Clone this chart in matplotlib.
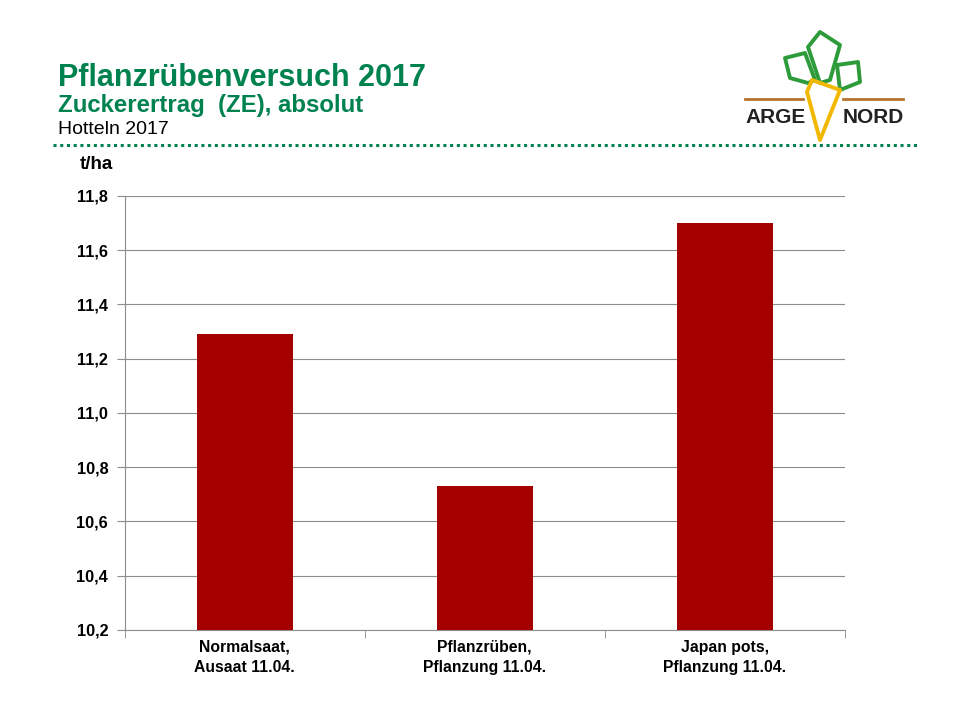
import matplotlib.pyplot as plt
from matplotlib.lines import Line2D
from matplotlib.patches import Polygon

plt.rcParams['font.family'] = ['Liberation Sans', 'DejaVu Sans']

# data
categories = ['Normalsaat,\nAusaat 11.04.', 'Pflanzrüben,\nPflanzung 11.04.', 'Japan pots,\nPflanzung 11.04.']
values = [11.29, 10.73, 11.70]
yticks = [10.2, 10.4, 10.6, 10.8, 11.0, 11.2, 11.4, 11.6, 11.8]

green = '#00824F'
bar_color = '#A50000'
grid_color = '#8C8C8C'

fig = plt.figure(figsize=(9.6, 7.2), dpi=100)
ax = fig.add_axes([0.130, 0.125, 0.750, 0.603])

x = range(len(categories))
ax.bar(x, values, width=0.4, color=bar_color, zorder=3)
ax.set_xlim(-0.5, 2.5)
ax.set_ylim(10.2, 11.8)
ax.set_yticks(yticks)
ax.set_yticklabels([f'{v:.1f}'.replace('.', ',') for v in yticks], fontweight='bold', fontsize=11.7)
ax.set_xticks(list(x))
ax.set_xticklabels(categories, fontweight='bold', fontsize=11.3, linespacing=1.45)
ax.tick_params(axis='x', length=0, pad=7)
ax.tick_params(axis='y', length=6, color=grid_color, pad=6)
# category boundary ticks
ax.set_xticks([-0.5, 0.5, 1.5, 2.5], minor=True)
ax.tick_params(axis='x', which='minor', length=6, color=grid_color)
ax.grid(axis='y', color=grid_color, linewidth=0.8, zorder=0)
for s in ['top', 'right']:
    ax.spines[s].set_visible(False)
ax.spines['left'].set_color(grid_color)
ax.spines['bottom'].set_color(grid_color)

fig.text(0.083, 0.765, 't/ha', fontsize=13.5, fontweight='bold')

# header
fig.text(0.060, 0.881, 'Pflanzrübenversuch 2017', color=green, fontsize=22, fontweight='bold')
fig.text(0.060, 0.845, 'Zuckerertrag  (ZE), absolut', color=green, fontsize=17.3, fontweight='bold')
fig.text(0.060, 0.814, 'Hotteln 2017', color='black', fontsize=14)
fig.add_artist(Line2D([0.055, 0.955], [0.798, 0.798], color=green, linewidth=2.2,
                      linestyle=(0, (1, 1.2)), transform=fig.transFigure))

# logo (rough)
tf = fig.transFigure
def px(pts):
    return [(a / 960, 1 - b / 720) for a, b in pts]
leaves = [
    [(785, 58), (805, 53), (815, 80), (808, 83), (790, 78)],
    [(820, 32), (840, 45), (830, 80), (820, 83), (808, 47)],
    [(837, 65), (858, 62), (860, 82), (840, 90)],
]
for lf in leaves:
    fig.add_artist(Polygon(px(lf), closed=True, fill=False, edgecolor='#2E9B3A', linewidth=2.8,
                           joinstyle='round', transform=tf))
fig.add_artist(Line2D([745 / 960, 803 / 960], [1 - 99 / 720, 1 - 99 / 720], color='#B8732E', linewidth=2, transform=tf))
fig.add_artist(Line2D([843 / 960, 903 / 960], [1 - 99 / 720, 1 - 99 / 720], color='#B8732E', linewidth=2, transform=tf))
fig.add_artist(Polygon(px([(807, 92), (812, 80), (840, 90), (820, 140)]), closed=True, fill=False,
                       edgecolor='#F2B800', linewidth=2.8, joinstyle='round', transform=tf))
fig.text(745 / 960, 1 - 123 / 720, 'ARGE', fontsize=15, fontweight='bold', color='#222222')
fig.text(843 / 960, 1 - 123 / 720, 'NORD', fontsize=15, fontweight='bold', color='#222222')

fig.savefig('out.png', dpi=100)
